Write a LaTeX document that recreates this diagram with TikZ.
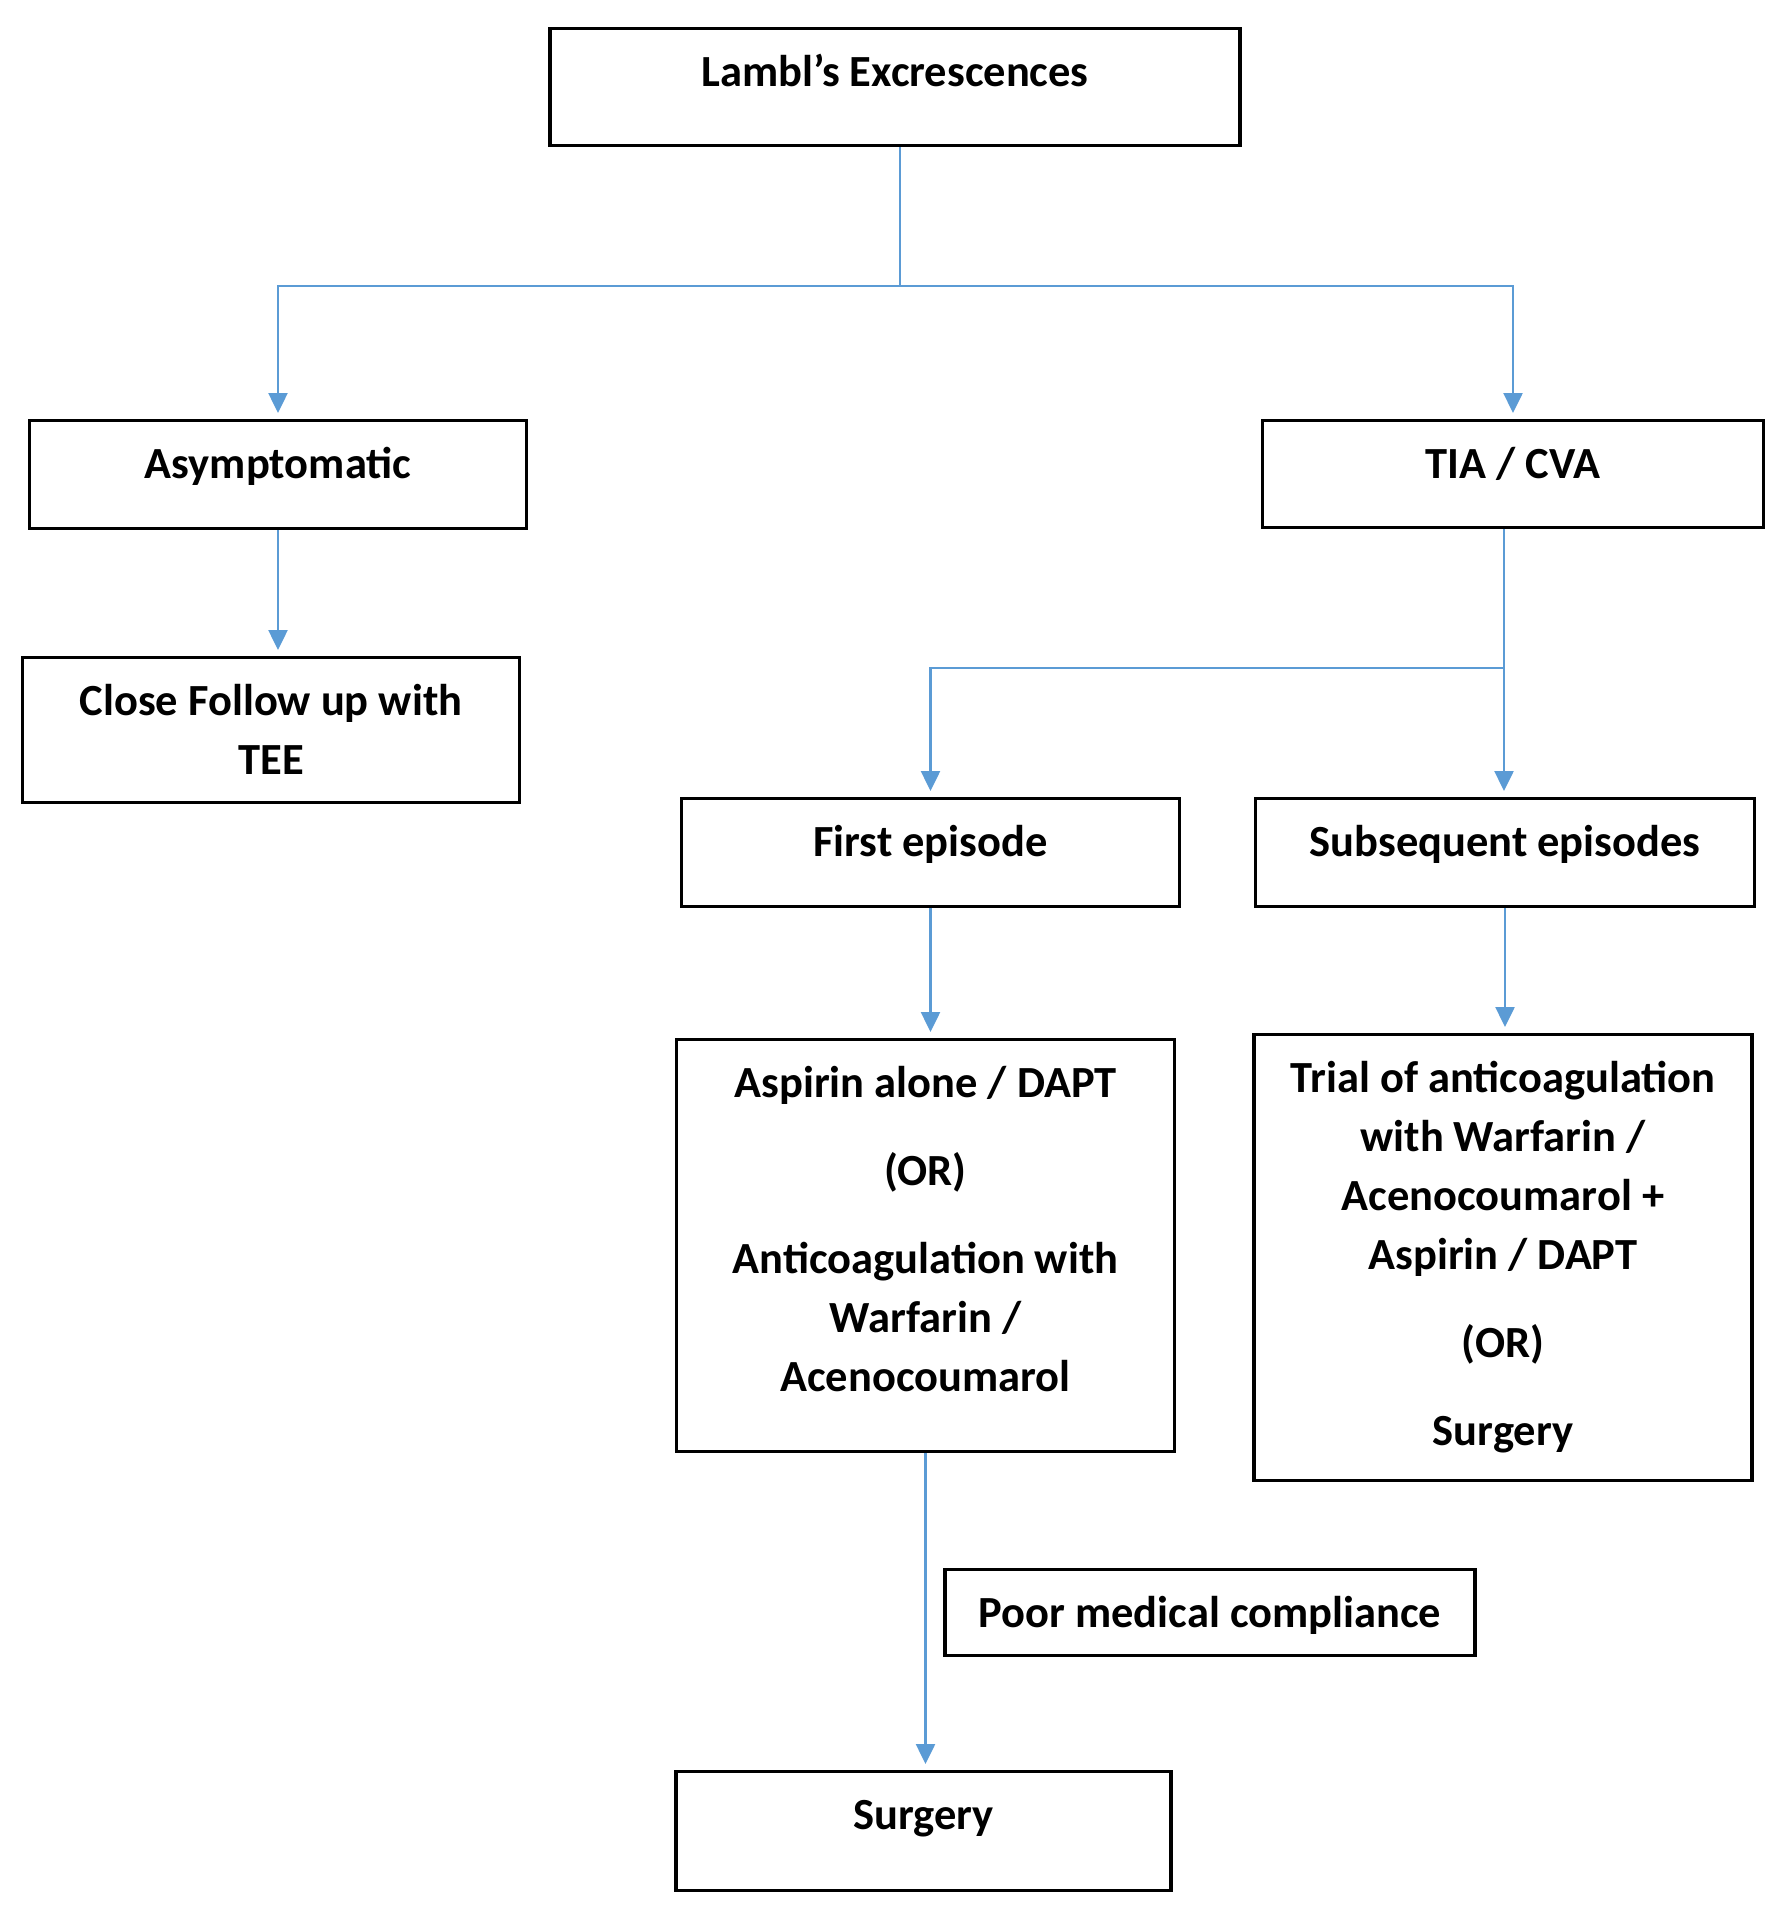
\documentclass[tikz,border=0pt]{standalone}
\usepackage{fontspec}
\setmainfont{Carlito}
\usepackage{tikz}
\usetikzlibrary{arrows.meta}

\definecolor{linkblue}{RGB}{91,155,213}
\newcommand{\boxlines}[1]{\begin{tabular}[t]{@{}c@{}}#1\end{tabular}}

\begin{document}
\begin{tikzpicture}[
      x=1pt, y=-1pt,
      font=\fontsize{44.5}{59}\selectfont\bfseries,
      box/.style={draw, line width=3.3pt, inner sep=0pt, anchor=north, text height=57.5pt},
      link/.style={linkblue, line width=2.5pt, -{Triangle[width=19pt,length=20pt]}, shorten >=6pt}
    ]
    \useasboundingbox (0,0) rectangle (1772,1914);

    % boxes
    \node[box, minimum width=690pt, text depth=59.5pt] (lambl) at (895,27) {Lambl’s Excrescences};
    \node[box, minimum width=497pt, text depth=50.5pt] (asym) at (278,419) {Asymptomatic};
    \node[box, minimum width=501pt, text depth=49.5pt] (tia) at (1513,419) {TIA / CVA};
    \node[box, minimum width=497pt, text depth=87.5pt] (follow) at (271,656) {\boxlines{Close Follow up with\\TEE}};
    \node[box, minimum width=498pt, text depth=50.5pt] (first) at (930.5,797) {First episode};
    \node[box, minimum width=499pt, text depth=50pt] (subseq) at (1505,797) {Subsequent episodes};
    \node[box, minimum width=498pt, text depth=354.5pt] (aspirin) at (925.5,1038)
      {\boxlines{Aspirin alone / DAPT\\[29pt] (OR)\\[29pt] Anticoagulation with\\Warfarin /\\Acenocoumarol}};
    \node[box, minimum width=498pt, text depth=388pt] (trial) at (1503,1033)
      {\boxlines{Trial of anticoagulation\\with Warfarin /\\Acenocoumarol +\\Aspirin / DAPT\\[29pt] (OR)\\[29pt] Surgery}};
    \node[box, minimum width=530pt, text depth=28pt] (poor) at (1210,1568) {Poor medical compliance};
    \node[box, minimum width=495pt, text depth=61.5pt] (surgery) at (923.5,1770) {Surgery};

    % connectors
    \coordinate (lamblsplit) at (900,286);
    \coordinate (tiasplit) at (1504,668);
    \draw[link] (lambl.south -| lamblsplit) -- (lamblsplit) -| (asym.north);
    \draw[link] (lamblsplit) -| (tia.north);
    \draw[link] (asym.south) -- (asym.south |- follow.north);
    \draw[link] (tia.south -| tiasplit) -- (tiasplit) -| (first.north);
    \draw[link] (tiasplit) -- (tiasplit |- subseq.north);
    \draw[link] (first.south) -- (first.south |- aspirin.north);
    \draw[link] (subseq.south) -- (subseq.south |- trial.north);
    \draw[link] (aspirin.south) -- (aspirin.south |- surgery.north);
\end{tikzpicture}
\end{document}
